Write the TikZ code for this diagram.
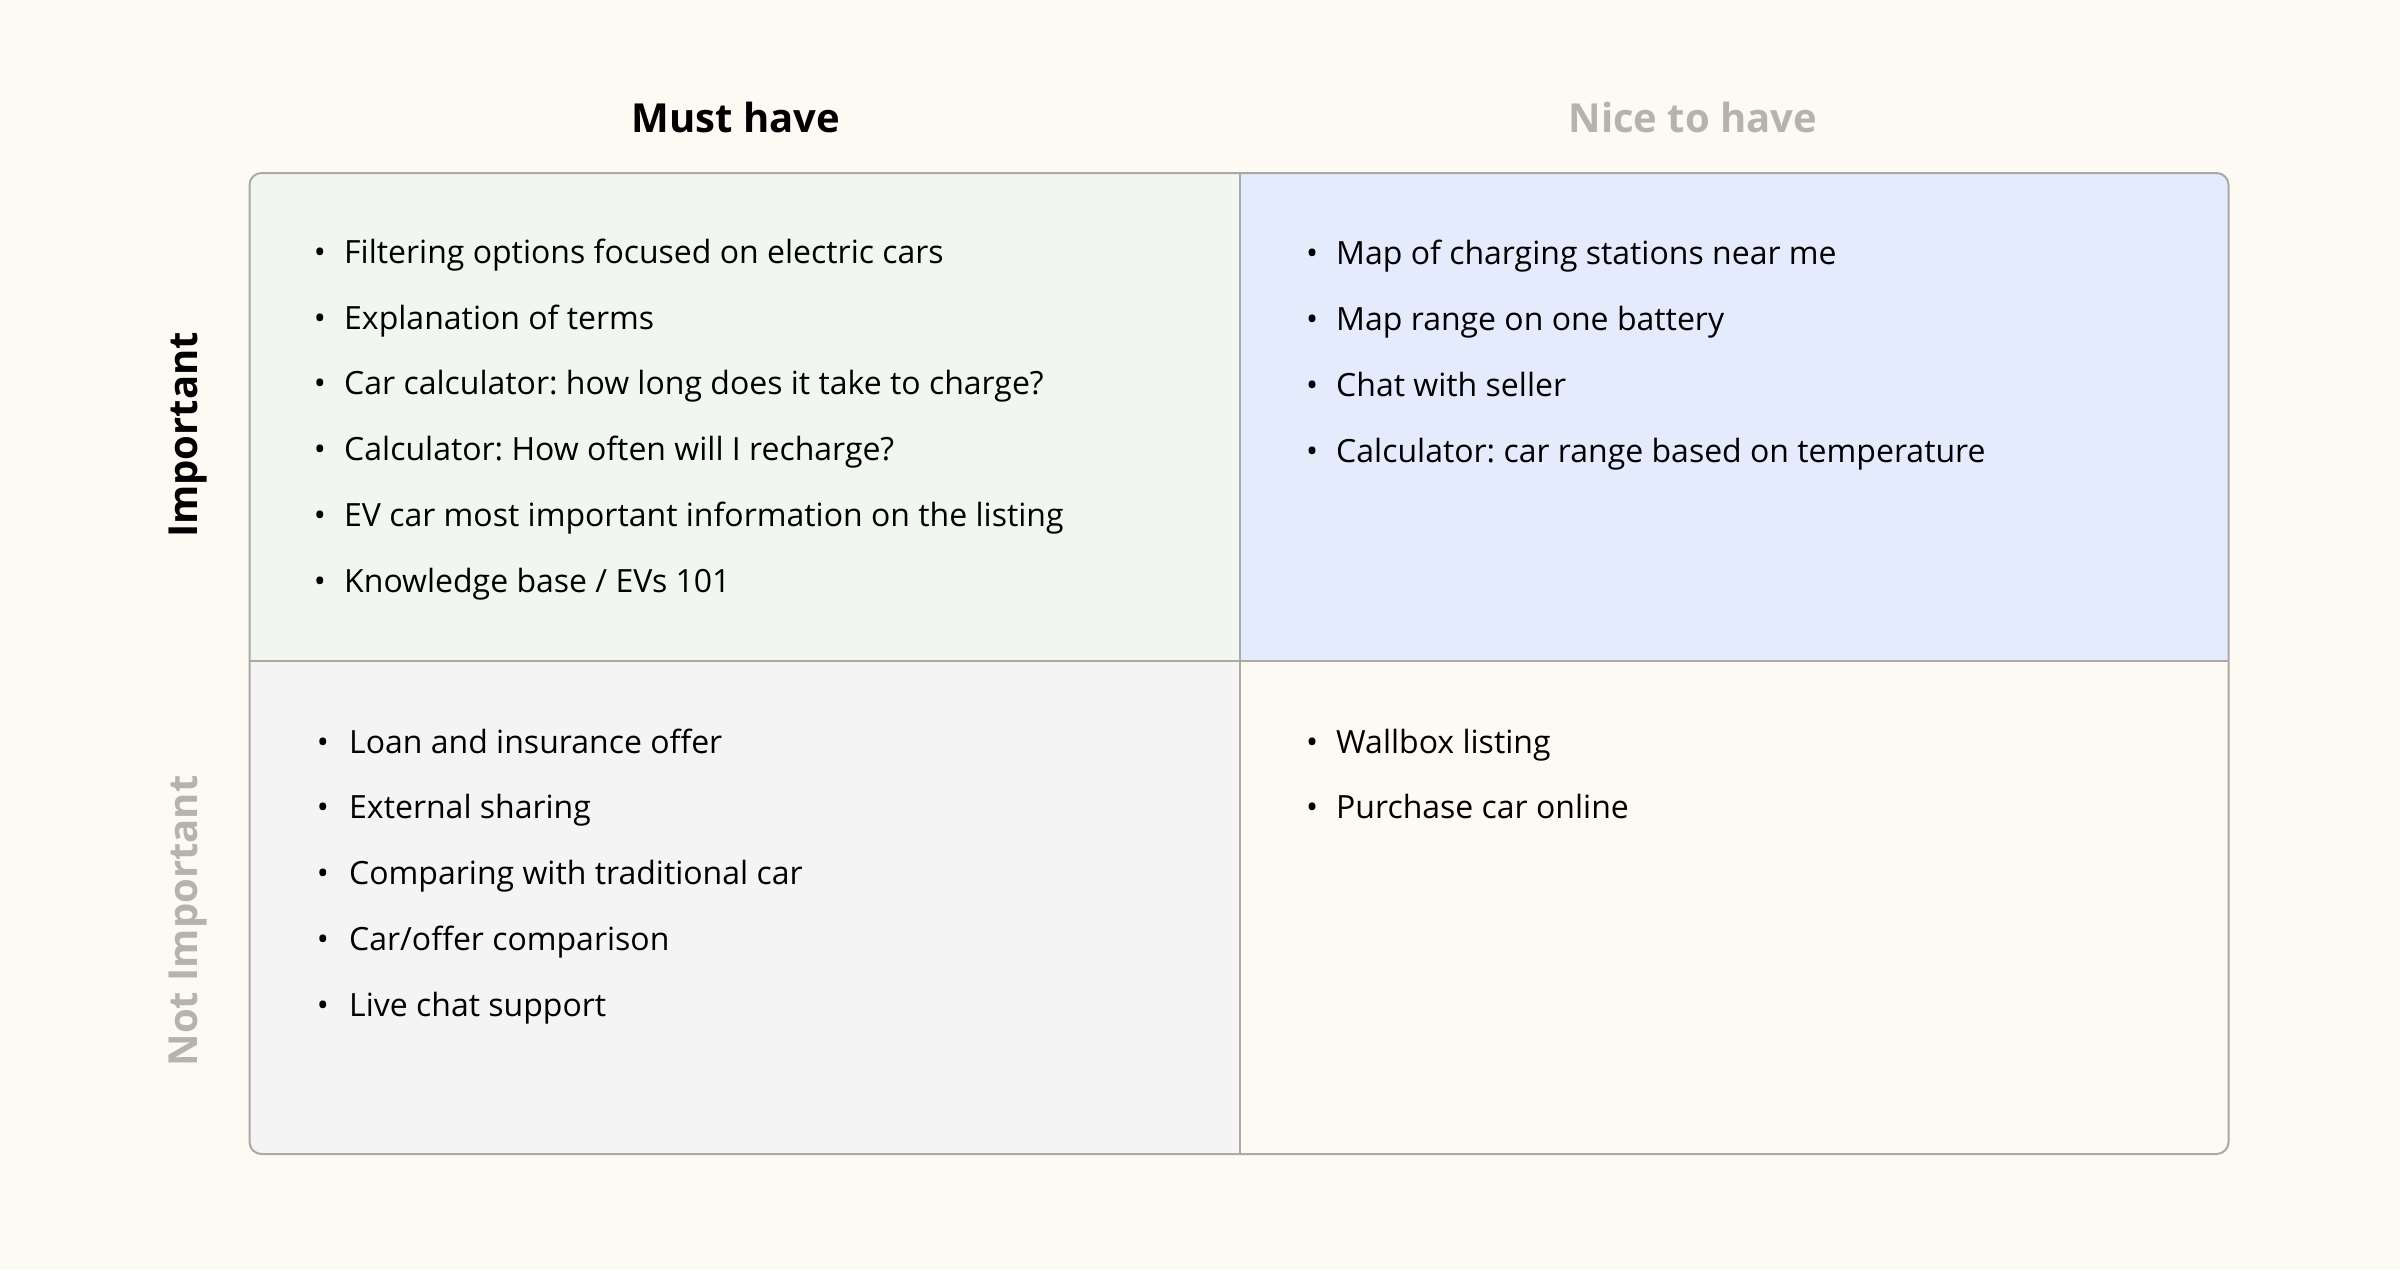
\documentclass[tikz,border=0pt]{standalone}
\usepackage{fontspec}
\setmainfont{Open Sans}
\frenchspacing
\definecolor{bg}{HTML}{FDF9F3}
\definecolor{tlc}{HTML}{F1F6F0}
\definecolor{trc}{HTML}{E4EBFD}
\definecolor{blc}{HTML}{F4F4F4}
\definecolor{brc}{HTML}{FDF9F3}
\definecolor{frame}{HTML}{ABA9A4}
\definecolor{mute}{HTML}{B5B3B0}
\begin{document}
\begin{tikzpicture}[x=1pt,y=-1pt,
  item/.style={anchor=base west,inner sep=0pt,font=\fontsize{32}{38}\selectfont\frenchspacing,text=black},
  head/.style={anchor=base,inner sep=0pt,font=\fontsize{40}{48}\selectfont\bfseries},
  side/.style={anchor=base,inner sep=0pt,rotate=90,font=\fontsize{40}{48}\selectfont\bfseries},
  blt/.style={anchor=base,inner sep=0pt,font=\fontsize{32}{38}\selectfont}]
\fill[bg] (0,0) rectangle (2400,1270);
\useasboundingbox (0,0) rectangle (2400,1270);
\begin{scope}
\clip[rounded corners=12pt] (249.5,173) rectangle (2228.5,1154);
\fill[tlc] (249.5,173) rectangle (1240,661);
\fill[trc] (1240,173) rectangle (2228.5,661);
\fill[blc] (249.5,661) rectangle (1240,1154);
\fill[brc] (1240,661) rectangle (2228.5,1154);
\end{scope}
\draw[frame,line width=2pt] (1240,173) -- (1240,1154);
\draw[frame,line width=2pt] (249.5,661) -- (2228.5,661);
\draw[frame,line width=2pt,rounded corners=12pt] (249.5,173) rectangle (2228.5,1154);

\node[head,text=black] (must) at (736,132.5) {Must have};
\node[head,text=mute] (nice) at (1693,132.5) {Nice to have};
\node[side,text=black] (imp) at (197,435) {Important};
\node[side,text=mute] (nimp) at (197,921) {Not Important};

% top-left
\foreach \t [count=\i from 0] in {Filtering options focused on electric cars,Explanation of terms,Car calculator: how long does it take to charge?,Calculator: How often will I recharge?,EV car most important information on the listing,Knowledge base / EVs 101}{
  \node[item] (tl\i) at (344,263.3+65.8*\i) {\t};
  \node[blt] (tlb\i) at (320,263.3+65.8*\i) {•};
}
% top-right
\foreach \t [count=\i from 0] in {Map of charging stations near me,Map range on one battery,Chat with seller,Calculator: car range based on temperature}{
  \node[item] (tr\i) at (1336,264.8+65.8*\i) {\t};
  \node[blt] (trb\i) at (1312,264.8+65.8*\i) {•};
}
% bottom-left
\foreach \t [count=\i from 0] in {Loan and insurance offer,External sharing,Comparing with traditional car,Car/offer comparison,Live chat support}{
  \node[item] (bl\i) at (349,753+65.8*\i) {\t};
  \node[blt] (blb\i) at (323,753+65.8*\i) {•};
}
% bottom-right
\foreach \t [count=\i from 0] in {Wallbox listing,Purchase car online}{
  \node[item] (br\i) at (1336,753+65.8*\i) {\t};
  \node[blt] (brb\i) at (1312,753+65.8*\i) {•};
}
\end{tikzpicture}
\end{document}
